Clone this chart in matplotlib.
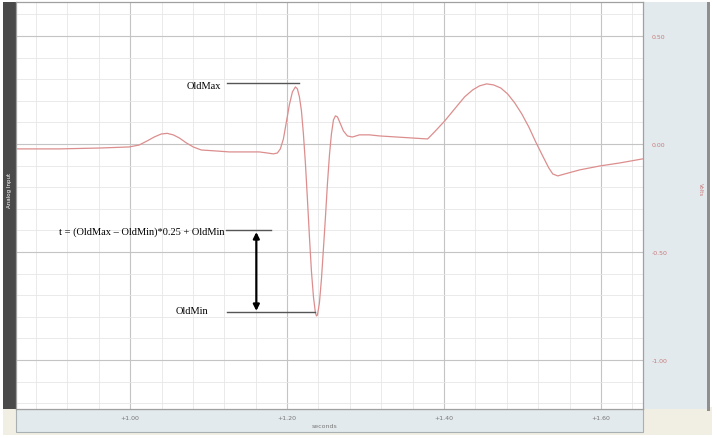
import matplotlib.pyplot as plt
from matplotlib.patches import Rectangle
import numpy as np

# trace (seconds, volts)
t_sec = [0.8545, 0.9094, 0.9604, 0.9987, 1.0115, 1.0217, 1.0306, 1.0396, 1.0472,
         1.0549, 1.0625, 1.0715, 1.0804, 1.0906, 1.1072, 1.1264, 1.1646, 1.1749,
         1.1825, 1.1876, 1.1914, 1.1953, 1.1991, 1.2029, 1.2068, 1.2106, 1.2131,
         1.2157, 1.2183, 1.2208, 1.2234, 1.2259, 1.2285, 1.2310, 1.2336, 1.2361,
         1.2374, 1.2387, 1.2412, 1.2438, 1.2463, 1.2489, 1.2514, 1.2540, 1.2565,
         1.2591, 1.2616, 1.2642, 1.2680, 1.2718, 1.2769, 1.2833, 1.2923, 1.3050,
         1.3178, 1.3791, 1.3880, 1.4008, 1.4135, 1.4263, 1.4365, 1.4454, 1.4544,
         1.4633, 1.4723, 1.4812, 1.4901, 1.4991, 1.5080, 1.5169, 1.5258, 1.5335,
         1.5386, 1.5450, 1.5539, 1.5731, 1.5986, 1.6241, 1.6535]
volts = [-0.023, -0.023, -0.019, -0.014, -0.005, 0.014, 0.032, 0.046, 0.049,
         0.042, 0.028, 0.005, -0.014, -0.028, -0.032, -0.037, -0.037, -0.042,
         -0.046, -0.042, -0.023, 0.023, 0.102, 0.181, 0.241, 0.264, 0.255,
         0.218, 0.153, 0.046, -0.093, -0.255, -0.431, -0.588, -0.708, -0.782,
         -0.796, -0.792, -0.736, -0.625, -0.486, -0.338, -0.185, -0.051, 0.046,
         0.111, 0.130, 0.125, 0.093, 0.060, 0.037, 0.032, 0.042, 0.042,
         0.037, 0.023, 0.056, 0.106, 0.162, 0.218, 0.250, 0.269, 0.278,
         0.273, 0.259, 0.231, 0.190, 0.139, 0.079, 0.009, -0.056, -0.111,
         -0.139, -0.148, -0.139, -0.120, -0.102, -0.088, -0.069]

x_ticks = [1.00, 1.20, 1.40, 1.60]
x_labels = ["+1.00", "+1.20", "+1.40", "+1.60"]
y_ticks = [0.5, 0.0, -0.5, -1.0]
y_labels = ["0.50", "0.00", "-0.50", "-1.00"]

old_max = 0.282
t_level = -0.398
old_min = -0.778

W, H = 717, 439
fig = plt.figure(figsize=(W / 100, H / 100), dpi=100)
fig.patch.set_facecolor("white")

def px_rect(x0, y0, x1, y1, **kw):
    # rectangle given in pixel coords (origin top-left)
    r = Rectangle((x0 / W, 1 - y1 / H), (x1 - x0) / W, (y1 - y0) / H,
                  transform=fig.transFigure, **kw)
    fig.patches.append(r)
    return r

# window-like panels
px_rect(3, 408, 712, 436, facecolor="#f1efe4", edgecolor="none", zorder=-2)
px_rect(3, 3, 16, 410, facecolor="#4a4a4a", edgecolor="none", zorder=-1)
px_rect(16, 410, 643, 433, facecolor="#e3eaed", edgecolor="#a9b0b2", lw=0.8, zorder=-1)
px_rect(643, 3, 708, 410, facecolor="#e3eaed", edgecolor="none", zorder=-1)
px_rect(707, 3, 710, 412, facecolor="#8f8f8f", edgecolor="none", zorder=-1)

fig.text(9.5 / W, 1 - 190 / H, "Analog Input", rotation=90, color="white",
         fontsize=4, ha="center", va="center")
fig.text(700 / W, 1 - 190 / H, "Volts", rotation=270, color="#c77b7b",
         fontsize=4, ha="center", va="center")
fig.text(325 / W, 1 - 427 / H, "seconds", color="#777777",
         fontsize=4.5, ha="center", va="center")

ax = fig.add_axes([16 / W, 1 - 410 / H, (643 - 16) / W, (410 - 3) / H])
ax.set_facecolor("white")

ax.set_xticks(x_ticks)
ax.set_xticklabels(x_labels)
ax.set_xticks(np.arange(0.84, 1.68, 0.04), minor=True)
ax.set_yticks(y_ticks)
ax.set_yticklabels(y_labels)
ax.set_yticks(np.arange(-1.2, 0.66, 0.1), minor=True)
# limits after ticks, set_ticks would widen them
ax.set_xlim(0.8545, 1.6536)
ax.set_ylim(-1.227, 0.657)
ax.yaxis.tick_right()
ax.tick_params(which="both", length=0)
ax.tick_params(axis="x", pad=4, labelsize=4.5, labelcolor="#777777")
ax.tick_params(axis="y", pad=6, labelsize=4.5, labelcolor="#c77b7b")
ax.grid(which="major", color="#c4c4c4", lw=0.8)
ax.grid(which="minor", color="#e6e6e6", lw=0.6)
ax.set_axisbelow(True)
for s in ax.spines.values():
    s.set_color("#a0a0a0")
    s.set_linewidth(0.9)

ax.plot(t_sec, volts, color="#dc8e8e", lw=0.9)

# annotations
serif = "Liberation Serif"
ax.plot([1.1238, 1.2157], [old_max, old_max], color="#555555", lw=1.0)
ax.plot([1.1225, 1.1800], [t_level, t_level], color="#555555", lw=1.0)
ax.plot([1.1238, 1.2361], [old_min, old_min], color="#555555", lw=1.0)
ax.text(1.1160, old_max - 0.012, "OldMax", family=serif, fontsize=7.5,
        ha="right", va="center")
ax.text(1.1200, t_level - 0.005, "t = (OldMax \u2013 OldMin)*0.25 + OldMin",
        family=serif, fontsize=7.5, ha="right", va="center")
ax.text(1.1000, old_min + 0.005, "OldMin", family=serif, fontsize=7.5,
        ha="right", va="center")
ax.annotate("", xy=(1.1608, old_min + 0.005), xytext=(1.1608, t_level - 0.01),
            arrowprops=dict(arrowstyle="<|-|>", color="black", lw=1.6,
                            mutation_scale=9, shrinkA=0, shrinkB=0))

fig.savefig("out.png", dpi=100)
